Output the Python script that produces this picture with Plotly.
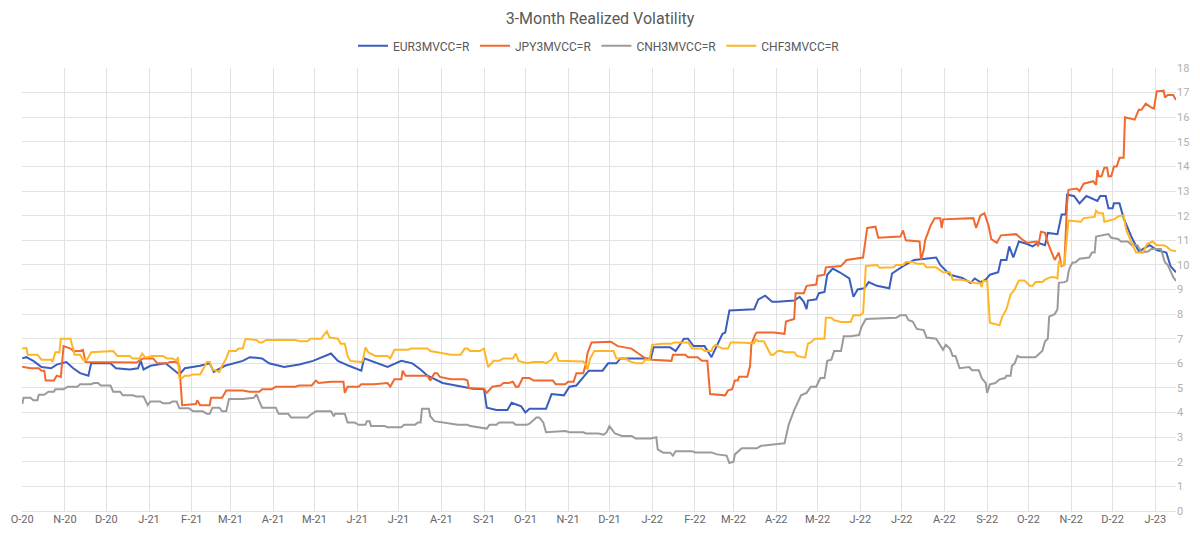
import plotly.graph_objects as go

# ---------------- data ----------------
EUR_DATES = ["2020-10-01","2020-10-04","2020-10-09","2020-10-15","2020-10-22","2020-10-26","2020-11-02","2020-11-07","2020-11-12","2020-11-18","2020-11-20","2020-12-04","2020-12-08","2020-12-18","2020-12-24","2020-12-26","2020-12-28","2021-01-02","2021-01-13","2021-01-20","2021-01-23","2021-01-27","2021-02-07","2021-02-14","2021-02-17","2021-02-25","2021-03-10","2021-03-15","2021-03-24","2021-03-29","2021-04-09","2021-04-20","2021-04-30","2021-05-13","2021-05-18","2021-05-26","2021-06-04","2021-06-06","2021-06-13","2021-06-23","2021-07-03","2021-07-11","2021-07-17","2021-07-22","2021-08-02","2021-08-13","2021-08-24","2021-09-01","2021-09-03","2021-09-10","2021-09-18","2021-09-21","2021-09-28","2021-10-01","2021-10-04","2021-10-16","2021-10-20","2021-10-29","2021-11-02","2021-11-07","2021-11-11","2021-11-16","2021-11-26","2021-11-30","2021-12-06","2021-12-09","2021-12-31","2022-01-02","2022-01-14","2022-01-18","2022-01-24","2022-01-27","2022-01-31","2022-02-08","2022-02-13","2022-02-16","2022-02-21","2022-02-23","2022-02-26","2022-03-16","2022-03-19","2022-03-24","2022-03-29","2022-04-02","2022-04-14","2022-04-18","2022-04-21","2022-04-23","2022-04-24","2022-04-30","2022-05-02","2022-05-06","2022-05-08","2022-05-12","2022-05-17","2022-05-24","2022-05-27","2022-05-30","2022-06-04","2022-06-07","2022-06-13","2022-06-22","2022-06-24","2022-07-02","2022-07-10","2022-07-26","2022-07-29","2022-08-05","2022-08-14","2022-08-20","2022-08-23","2022-08-27","2022-08-31","2022-09-03","2022-09-09","2022-09-11","2022-09-15","2022-09-17","2022-09-20","2022-09-24","2022-09-30","2022-10-04","2022-10-08","2022-10-13","2022-10-15","2022-10-22","2022-10-25","2022-10-28","2022-10-29","2022-11-03","2022-11-07","2022-11-12","2022-11-20","2022-11-22","2022-11-26","2022-11-28","2022-12-01","2022-12-02","2022-12-06","2022-12-09","2022-12-15","2022-12-20","2022-12-28","2023-01-02","2023-01-09","2023-01-12","2023-01-16"]
EUR_VALUES = [6.2,6.25,6.1,5.85,5.8,5.95,6.05,5.8,5.6,5.5,6.0,6.0,5.8,5.75,5.8,6.1,5.75,5.9,6.0,5.7,5.55,5.8,5.9,6.0,5.65,5.9,6.1,6.25,6.2,6.0,5.85,5.95,6.1,6.4,6.1,5.9,5.7,6.2,6.05,5.85,6.1,6.0,5.75,5.5,5.2,5.1,4.97,4.95,4.2,4.1,4.1,4.4,4.25,4.0,4.15,4.15,4.75,4.7,5.05,5.1,5.35,5.7,5.7,6.0,6.0,6.2,6.2,6.65,6.65,6.5,7.0,7.0,6.7,6.7,6.25,6.6,7.2,7.25,8.15,8.2,8.6,8.75,8.5,8.5,8.55,8.7,8.5,8.2,8.55,8.6,8.85,8.9,9.6,9.85,9.7,9.45,8.7,9.0,9.05,9.3,9.15,9.05,9.65,9.95,10.2,10.3,10.0,9.6,9.47,9.27,9.45,9.3,9.4,9.6,9.7,10.2,10.2,10.75,10.3,10.95,10.85,10.75,10.9,10.8,11.3,11.25,12.05,12.05,12.85,12.8,12.5,12.8,12.6,12.8,12.8,12.3,12.3,12.5,12.5,11.9,11.1,10.55,10.8,10.6,10.5,9.95,9.7]

JPY_DATES = ["2020-10-01","2020-10-07","2020-10-13","2020-10-15","2020-10-17","2020-10-18","2020-10-24","2020-10-26","2020-10-29","2020-10-31","2020-11-05","2020-11-07","2020-11-12","2020-11-14","2020-11-16","2020-11-20","2020-12-23","2020-12-26","2020-12-28","2021-01-04","2021-01-07","2021-01-14","2021-01-16","2021-01-21","2021-01-23","2021-01-25","2021-02-04","2021-02-05","2021-02-07","2021-02-14","2021-02-15","2021-02-23","2021-02-26","2021-03-10","2021-03-15","2021-03-22","2021-03-24","2021-03-31","2021-04-03","2021-04-17","2021-04-20","2021-04-29","2021-05-02","2021-05-04","2021-05-13","2021-05-22","2021-05-23","2021-05-25","2021-06-02","2021-06-04","2021-06-13","2021-06-23","2021-06-25","2021-06-28","2021-07-03","2021-07-04","2021-07-06","2021-07-22","2021-07-24","2021-07-27","2021-07-29","2021-07-31","2021-08-08","2021-08-18","2021-08-20","2021-08-21","2021-09-01","2021-09-03","2021-09-07","2021-09-13","2021-09-15","2021-09-19","2021-09-22","2021-09-24","2021-09-26","2021-09-29","2021-10-04","2021-10-07","2021-10-21","2021-10-23","2021-10-30","2021-11-01","2021-11-05","2021-11-07","2021-11-12","2021-11-14","2021-11-15","2021-11-18","2021-12-02","2021-12-07","2021-12-17","2021-12-22","2021-12-27","2022-01-01","2022-01-15","2022-01-16","2022-01-25","2022-01-27","2022-02-03","2022-02-06","2022-02-10","2022-02-12","2022-02-23","2022-02-25","2022-02-28","2022-03-02","2022-03-04","2022-03-05","2022-03-11","2022-03-13","2022-03-14","2022-03-17","2022-03-18","2022-03-30","2022-04-07","2022-04-08","2022-04-14","2022-04-15","2022-04-21","2022-04-23","2022-04-30","2022-05-01","2022-05-06","2022-05-07","2022-05-18","2022-05-22","2022-06-03","2022-06-06","2022-06-12","2022-06-14","2022-06-30","2022-07-02","2022-07-04","2022-07-14","2022-07-15","2022-07-17","2022-07-18","2022-07-22","2022-07-25","2022-07-29","2022-07-30","2022-07-31","2022-08-22","2022-08-24","2022-08-27","2022-08-30","2022-09-02","2022-09-04","2022-09-08","2022-09-11","2022-09-22","2022-09-26","2022-09-30","2022-10-07","2022-10-08","2022-10-10","2022-10-13","2022-10-15","2022-10-17","2022-10-20","2022-10-23","2022-10-25","2022-10-27","2022-10-29","2022-10-30","2022-11-05","2022-11-07","2022-11-10","2022-11-17","2022-11-19","2022-11-20","2022-11-21","2022-11-23","2022-11-25","2022-11-27","2022-11-28","2022-11-30","2022-12-02","2022-12-04","2022-12-06","2022-12-09","2022-12-10","2022-12-17","2022-12-20","2022-12-22","2022-12-25","2022-12-29","2022-12-31","2023-01-02","2023-01-07","2023-01-08","2023-01-10","2023-01-14","2023-01-16"]
JPY_VALUES = [5.86,5.8,5.8,5.7,5.7,5.3,5.3,5.5,5.45,6.7,6.6,6.5,6.5,6.55,6.05,6.05,6.03,6.15,6.2,6.2,6.0,6.0,6.05,6.05,5.9,4.3,4.35,4.5,4.3,4.3,4.6,4.6,4.9,4.9,4.85,4.85,4.95,4.95,5.05,5.05,5.1,5.1,5.3,5.2,5.25,5.25,4.8,5.05,5.05,5.15,5.15,5.2,5.05,5.35,5.35,5.7,5.5,5.5,5.3,5.6,5.6,5.45,5.35,5.35,5.3,5.0,4.97,4.8,5.05,5.1,5.2,5.2,5.25,5.05,5.05,5.4,5.4,5.3,5.3,5.15,5.15,5.25,5.25,5.6,5.6,6.0,6.4,6.85,6.88,6.7,6.6,6.4,6.2,6.15,6.1,6.35,6.35,6.25,6.25,6.1,6.1,4.75,4.7,4.9,4.95,5.3,5.3,5.45,5.45,5.9,6.8,7.2,7.25,7.25,7.2,7.7,7.8,8.85,8.85,9.15,9.2,9.55,9.6,9.9,9.95,10.2,10.3,11.5,11.55,11.1,11.15,11.4,11.0,10.95,10.2,10.6,11.0,11.6,11.9,11.9,11.5,11.85,11.9,11.5,12.0,12.1,11.6,11.05,10.9,11.2,11.25,11.05,10.9,10.95,10.75,11.35,11.3,10.9,10.6,10.2,10.5,9.95,10.0,12.5,13.05,13.1,13.0,13.3,13.4,13.25,13.85,13.6,13.6,13.95,13.95,13.6,13.6,14.0,14.0,14.35,14.35,16.0,15.9,16.3,16.3,16.55,16.4,16.35,17.05,17.08,16.8,16.9,16.9,16.7]

CNH_DATES = ["2020-10-01","2020-10-02","2020-10-07","2020-10-09","2020-10-12","2020-10-13","2020-10-17","2020-10-20","2020-10-24","2020-10-25","2020-10-31","2020-11-03","2020-11-10","2020-11-12","2020-11-20","2020-11-22","2020-11-25","2020-11-27","2020-12-04","2020-12-06","2020-12-11","2020-12-13","2020-12-20","2020-12-23","2020-12-28","2020-12-31","2021-01-02","2021-01-09","2021-01-11","2021-01-16","2021-01-18","2021-01-21","2021-01-23","2021-01-30","2021-02-02","2021-02-09","2021-02-12","2021-02-14","2021-02-16","2021-02-21","2021-02-23","2021-02-26","2021-02-28","2021-03-10","2021-03-18","2021-03-20","2021-03-22","2021-03-24","2021-04-03","2021-04-05","2021-04-12","2021-04-14","2021-04-26","2021-04-28","2021-05-02","2021-05-13","2021-05-15","2021-05-16","2021-05-23","2021-05-25","2021-05-30","2021-06-02","2021-06-07","2021-06-08","2021-06-10","2021-06-11","2021-06-21","2021-06-23","2021-07-03","2021-07-05","2021-07-13","2021-07-15","2021-07-17","2021-07-18","2021-07-23","2021-07-24","2021-07-27","2021-08-10","2021-08-13","2021-08-20","2021-08-22","2021-09-03","2021-09-05","2021-09-10","2021-09-12","2021-09-22","2021-09-24","2021-10-02","2021-10-04","2021-10-09","2021-10-11","2021-10-14","2021-10-16","2021-10-30","2021-11-02","2021-11-12","2021-11-14","2021-11-23","2021-11-27","2021-11-29","2021-12-01","2021-12-03","2021-12-05","2021-12-10","2021-12-17","2021-12-20","2021-12-31","2022-01-04","2022-01-05","2022-01-09","2022-01-14","2022-01-16","2022-01-18","2022-01-30","2022-02-01","2022-02-13","2022-02-17","2022-02-24","2022-02-26","2022-03-01","2022-03-02","2022-03-07","2022-03-18","2022-03-21","2022-03-30","2022-04-02","2022-04-07","2022-04-08","2022-04-10","2022-04-14","2022-04-19","2022-04-23","2022-04-26","2022-04-30","2022-05-03","2022-05-06","2022-05-08","2022-05-11","2022-05-13","2022-05-18","2022-05-20","2022-05-25","2022-05-31","2022-06-02","2022-06-05","2022-06-27","2022-06-30","2022-07-04","2022-07-06","2022-07-09","2022-07-12","2022-07-17","2022-07-19","2022-07-26","2022-07-31","2022-08-02","2022-08-05","2022-08-07","2022-08-09","2022-08-12","2022-08-19","2022-08-21","2022-08-26","2022-08-28","2022-08-31","2022-09-01","2022-09-03","2022-09-07","2022-09-10","2022-09-14","2022-09-15","2022-09-18","2022-09-19","2022-09-21","2022-09-23","2022-09-25","2022-10-06","2022-10-09","2022-10-11","2022-10-13","2022-10-15","2022-10-16","2022-10-20","2022-10-22","2022-10-23","2022-10-27","2022-10-29","2022-10-30","2022-10-31","2022-11-02","2022-11-04","2022-11-07","2022-11-14","2022-11-16","2022-11-18","2022-11-19","2022-11-28","2022-11-30","2022-12-05","2022-12-07","2022-12-12","2022-12-15","2022-12-19","2022-12-22","2022-12-27","2022-12-29","2023-01-05","2023-01-08","2023-01-10","2023-01-14","2023-01-16"]
CNH_VALUES = [4.35,4.6,4.6,4.5,4.5,4.72,4.72,4.85,4.85,4.95,4.95,5.05,5.05,5.15,5.15,5.2,5.2,5.1,5.1,4.85,4.85,4.7,4.7,4.65,4.65,4.3,4.45,4.45,4.38,4.38,4.45,4.45,4.17,4.17,4.05,4.05,3.95,3.95,4.2,4.2,4.05,4.05,4.55,4.55,4.6,4.75,4.45,4.2,4.2,3.95,3.95,3.8,3.8,3.9,4.05,4.05,3.85,3.95,3.95,3.6,3.6,3.5,3.5,3.65,3.65,3.45,3.45,3.4,3.4,3.5,3.5,3.6,3.6,4.15,4.15,3.85,3.65,3.55,3.5,3.5,3.45,3.35,3.5,3.5,3.6,3.6,3.5,3.5,3.55,3.8,3.8,3.6,3.2,3.25,3.2,3.2,3.15,3.15,3.1,3.2,3.45,3.3,3.15,3.05,3.05,2.95,2.95,3.0,2.5,2.37,2.37,2.25,2.43,2.43,2.38,2.38,2.3,2.25,1.95,2.0,2.3,2.55,2.55,2.65,2.68,2.72,2.75,3.0,3.5,4.1,4.7,4.8,5.05,5.05,5.4,5.4,6.1,6.15,6.5,6.5,7.1,7.1,7.15,7.5,7.8,7.85,7.95,7.95,7.75,7.7,7.4,7.35,7.05,7.0,6.55,6.75,6.6,6.3,6.3,5.8,5.85,5.72,5.72,5.4,5.2,4.8,5.15,5.2,5.35,5.4,5.5,5.5,5.9,6.0,6.3,6.25,6.25,6.4,6.5,6.9,7.0,7.9,8.0,8.2,9.27,9.3,9.35,9.7,9.9,10.1,10.1,10.25,10.3,10.5,10.5,11.15,11.25,11.1,11.05,10.95,10.95,10.8,10.8,10.5,10.55,10.65,10.65,10.1,10.0,9.5,9.35]

CHF_DATES = ["2020-10-01","2020-10-04","2020-10-05","2020-10-12","2020-10-15","2020-10-22","2020-10-23","2020-10-25","2020-10-28","2020-10-29","2020-11-05","2020-11-07","2020-11-08","2020-11-12","2020-11-14","2020-11-17","2020-11-20","2020-12-06","2020-12-09","2020-12-18","2020-12-20","2020-12-25","2020-12-27","2020-12-29","2020-12-31","2021-01-03","2021-01-11","2021-01-14","2021-01-18","2021-01-21","2021-01-22","2021-01-23","2021-01-25","2021-01-27","2021-01-30","2021-02-02","2021-02-07","2021-02-09","2021-02-12","2021-02-14","2021-02-16","2021-02-21","2021-02-23","2021-02-26","2021-02-28","2021-03-05","2021-03-07","2021-03-10","2021-03-12","2021-03-20","2021-03-22","2021-03-24","2021-03-27","2021-04-17","2021-04-21","2021-04-26","2021-04-28","2021-05-06","2021-05-07","2021-05-10","2021-05-12","2021-05-18","2021-05-20","2021-05-23","2021-05-25","2021-05-27","2021-06-04","2021-06-05","2021-06-07","2021-06-09","2021-06-14","2021-06-23","2021-06-25","2021-06-28","2021-07-08","2021-07-10","2021-07-22","2021-07-24","2021-07-29","2021-08-03","2021-08-08","2021-08-15","2021-08-18","2021-08-20","2021-08-22","2021-08-29","2021-09-01","2021-09-03","2021-09-04","2021-09-08","2021-09-12","2021-09-15","2021-09-22","2021-09-24","2021-09-26","2021-10-02","2021-10-07","2021-10-14","2021-10-16","2021-10-20","2021-10-23","2021-10-25","2021-11-12","2021-11-14","2021-11-15","2021-11-17","2021-11-20","2021-12-04","2021-12-06","2021-12-13","2021-12-15","2021-12-20","2021-12-25","2021-12-27","2021-12-30","2022-01-01","2022-01-08","2022-01-15","2022-01-17","2022-01-27","2022-01-30","2022-02-06","2022-02-08","2022-02-13","2022-02-14","2022-02-16","2022-02-21","2022-02-25","2022-02-27","2022-03-04","2022-03-14","2022-03-16","2022-03-17","2022-03-19","2022-03-23","2022-03-25","2022-03-28","2022-03-30","2022-04-02","2022-04-05","2022-04-07","2022-04-14","2022-04-16","2022-04-22","2022-04-24","2022-04-26","2022-04-29","2022-05-06","2022-05-07","2022-05-11","2022-05-13","2022-05-18","2022-05-25","2022-05-27","2022-06-01","2022-06-03","2022-06-05","2022-06-13","2022-06-15","2022-06-25","2022-06-27","2022-07-02","2022-07-04","2022-07-09","2022-07-12","2022-07-17","2022-07-19","2022-07-26","2022-07-29","2022-07-31","2022-08-05","2022-08-07","2022-08-14","2022-08-24","2022-08-27","2022-08-28","2022-08-29","2022-09-01","2022-09-03","2022-09-10","2022-09-12","2022-09-15","2022-09-18","2022-09-21","2022-09-24","2022-09-28","2022-10-02","2022-10-04","2022-10-06","2022-10-11","2022-10-13","2022-10-17","2022-10-20","2022-10-22","2022-10-23","2022-10-25","2022-10-27","2022-10-29","2022-10-30","2022-11-08","2022-11-10","2022-11-18","2022-11-19","2022-11-21","2022-11-24","2022-11-25","2022-11-28","2022-12-02","2022-12-06","2022-12-09","2022-12-11","2022-12-15","2022-12-18","2022-12-23","2022-12-26","2022-12-30","2023-01-02","2023-01-07","2023-01-09","2023-01-12","2023-01-16"]
CHF_VALUES = [6.6,6.62,6.35,6.35,6.15,6.15,6.05,6.45,6.45,7.0,7.0,6.6,6.35,6.35,6.15,6.15,6.45,6.5,6.3,6.3,6.2,6.2,6.4,6.25,6.25,6.3,6.3,6.2,6.2,6.1,6.25,5.4,5.4,5.5,5.5,5.55,5.55,5.75,6.05,6.05,5.75,5.65,5.9,6.2,6.5,6.5,6.6,6.6,7.0,6.95,6.85,6.85,6.95,6.95,6.9,6.9,7.0,7.0,7.1,7.3,7.05,7.0,6.8,6.8,6.3,6.1,6.05,6.1,6.65,6.45,6.3,6.3,6.2,6.55,6.55,6.6,6.6,6.5,6.45,6.4,6.35,6.35,6.6,6.6,6.5,6.5,6.6,6.1,5.85,6.1,6.1,6.2,6.2,6.4,6.1,6.0,6.05,6.05,6.0,6.15,6.45,6.1,6.07,5.95,5.75,6.2,6.5,6.5,6.2,6.2,6.1,6.0,6.0,6.15,6.15,6.75,6.8,6.8,6.85,6.85,6.6,6.6,6.5,6.5,6.65,6.75,6.6,6.6,6.85,6.85,6.83,6.82,6.97,6.9,6.9,6.7,6.35,6.35,6.5,6.5,6.45,6.45,6.3,6.23,6.8,6.85,7.0,7.0,7.85,7.85,7.75,7.68,7.68,7.95,7.95,8.05,9.95,10.0,9.88,9.9,10.0,10.0,10.12,10.12,10.05,10.05,9.9,9.9,9.8,9.7,9.7,9.4,9.4,9.25,9.25,9.1,9.35,9.35,7.65,7.55,7.9,8.2,8.8,9.0,9.37,9.37,9.15,9.15,9.3,9.3,9.4,9.5,9.5,9.45,10.15,10.0,10.0,11.1,11.8,11.75,11.9,11.95,12.2,12.1,12.1,11.75,11.8,11.85,12.0,12.0,11.4,10.9,10.5,10.5,10.85,10.95,10.8,10.8,10.75,10.6,10.55]

SERIES_NAMES = ["EUR3MVCC=R", "JPY3MVCC=R", "CNH3MVCC=R", "CHF3MVCC=R"]
SERIES_COLORS = ["#3A5DBE", "#F0692F", "#9B9B9B", "#FFB626"]

TICK_DATES = ["2020-10-01","2020-11-01","2020-12-01","2021-01-01","2021-02-01","2021-03-01","2021-04-01","2021-05-01","2021-06-01","2021-07-01","2021-08-01","2021-09-01","2021-10-01","2021-11-01","2021-12-01","2022-01-01","2022-02-01","2022-03-01","2022-04-01","2022-05-01","2022-06-01","2022-07-01","2022-08-01","2022-09-01","2022-10-01","2022-11-01","2022-12-01","2023-01-01"]
TICK_LABELS = ["O-20","N-20","D-20","J-21","F-21","M-21","A-21","M-21","J-21","J-21","A-21","S-21","O-21","N-21","D-21","J-22","F-22","M-22","A-22","M-22","J-22","J-22","A-22","S-22","O-22","N-22","D-22","J-23"]

TITLE = "3-Month Realized Volatility"

# ---------------- figure ----------------
FONT = "Roboto, 'DejaVu Sans', sans-serif"
fig = go.Figure()
all_dates = [EUR_DATES, JPY_DATES, CNH_DATES, CHF_DATES]
all_vals = [EUR_VALUES, JPY_VALUES, CNH_VALUES, CHF_VALUES]
for name, color, d, v in zip(SERIES_NAMES, SERIES_COLORS, all_dates, all_vals):
    fig.add_trace(go.Scatter(x=d, y=v, name=name, mode="lines",
                             line=dict(color=color, width=2)))

fig.update_layout(
    width=1200, height=537,
    margin=dict(l=11, r=24, t=68, b=25),
    paper_bgcolor="white", plot_bgcolor="white",
    font=dict(family=FONT, color="#666666"),
    title=dict(text=TITLE, x=0.5, xanchor="center", y=1 - 18 / 537, yanchor="middle",
               yref="container", font=dict(size=16, color="#595959", family=FONT)),
    legend=dict(orientation="h", x=0.5, xanchor="center", y=1.05, yanchor="middle",
                font=dict(size=12, color="#595959"), itemwidth=30, tracegroupgap=0),
    showlegend=True,
)
fig.update_xaxes(type="date", range=["2020-09-30 20:00", "2023-01-16"],
                 tickmode="array", tickvals=TICK_DATES, ticktext=TICK_LABELS,
                 ticklabeloverflow="allow",
                 showgrid=True, gridcolor="#E2E2E2", gridwidth=1,
                 zeroline=False, showline=False, ticks="",
                 tickfont=dict(size=11, color="#666666"))
fig.update_yaxes(side="right", range=[0, 18], dtick=1, tick0=0,
                 showgrid=True, gridcolor="#E2E2E2", gridwidth=1,
                 zeroline=True, zerolinecolor="#E2E2E2", zerolinewidth=1,
                 showline=False, ticks="",
                 tickfont=dict(size=11, color="#B0B0B0"))

fig.write_html("out.html")
